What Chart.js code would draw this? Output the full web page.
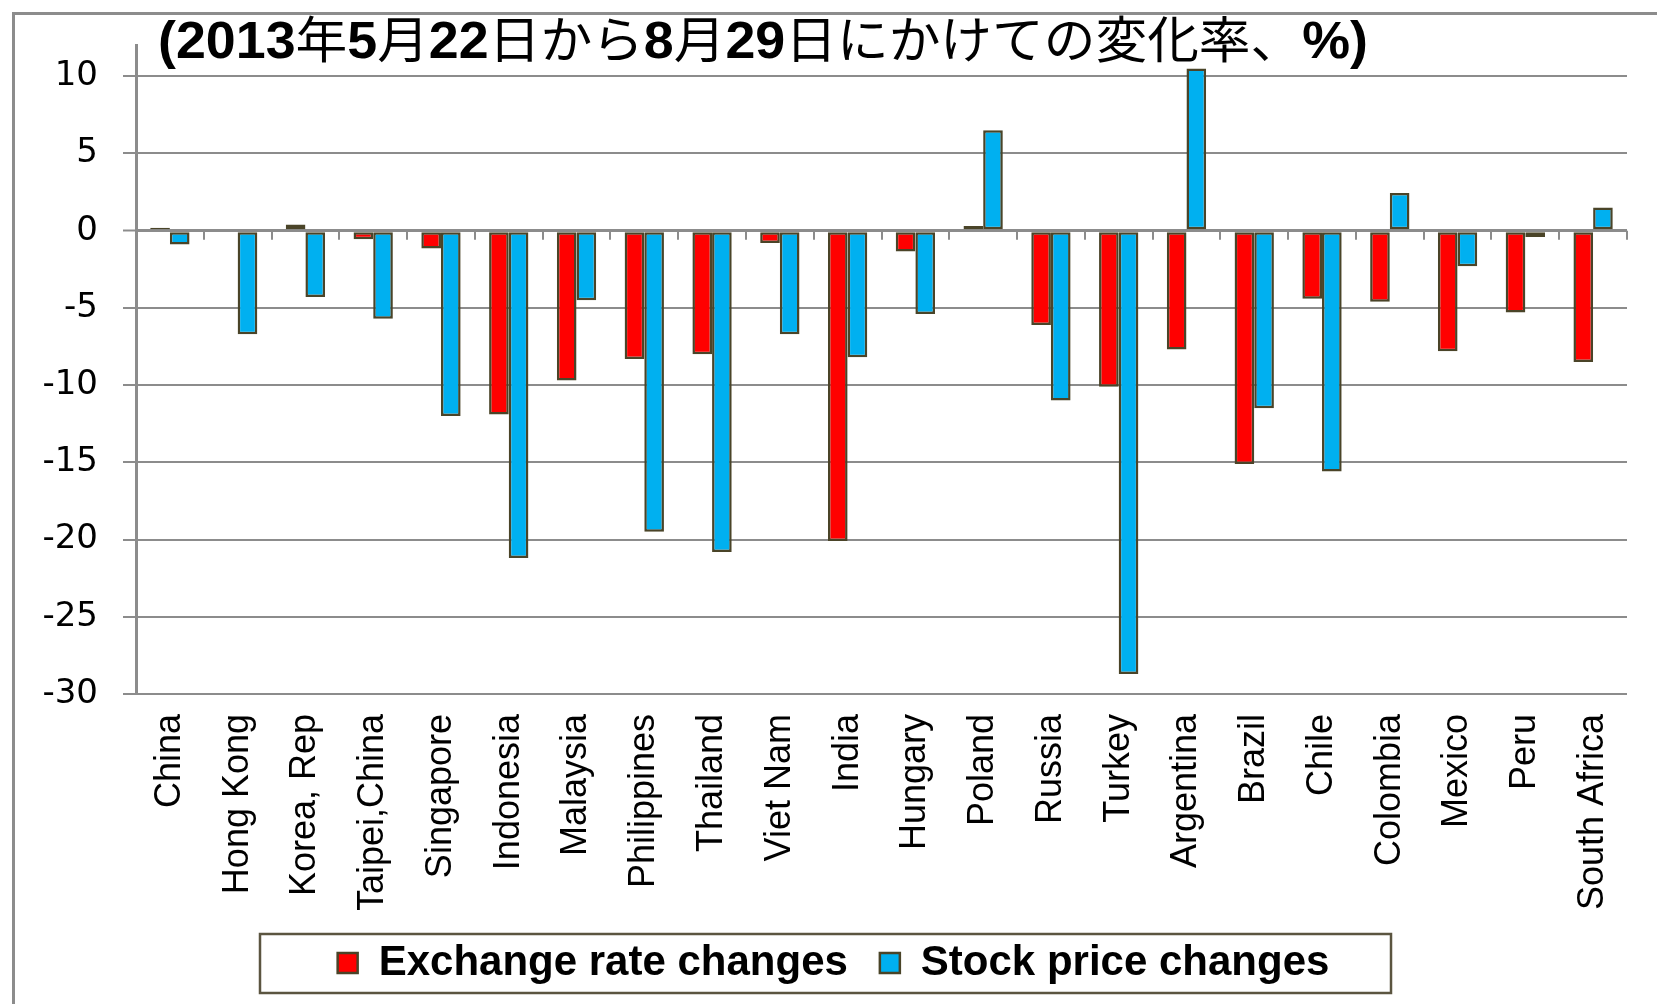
<!DOCTYPE html>
<html>
<head>
<meta charset="utf-8">
<script src="https://cdn.jsdelivr.net/npm/chart.js@4.4.1/dist/chart.umd.min.js"></script>
<style>
  html, body { margin: 0; padding: 0; background: #fff; }
  #wrap { position: relative; width: 1657px; height: 1004px; overflow: hidden; }
  #frame { position: absolute; left: 12px; top: 12px; right: -10px; bottom: -10px;
           border-left: 3px solid #8c8c8c; border-top: 3px solid #8c8c8c; }
  #chart { position: absolute; left: 0; top: 0; }
  #title { position: absolute; left: 158px; top: 11px; white-space: nowrap;
           font-family: "Noto Sans CJK JP", sans-serif; font-size: 50px; line-height: 1;
           color: #000; transform-origin: 0 0; }
  #title b { font-family: "Liberation Sans", Arial, sans-serif; font-size: 52px; font-weight: bold; }
</style>
</head>
<body>
<div id="wrap">
  <div id="frame"></div>
  <canvas id="chart" width="1657" height="1004"></canvas>
  <div id="title"><b>(2013</b>年<b>5</b>月<b>22</b>日から<b>8</b>月<b>29</b>日にかけての変化率、<b>%)</b></div>
</div>
<script>
const categories = ['China', 'Hong Kong', 'Korea, Rep', 'Taipei,China', 'Singapore', 'Indonesia',
  'Malaysia', 'Philippines', 'Thailand', 'Viet Nam', 'India', 'Hungary', 'Poland', 'Russia',
  'Turkey', 'Argentina', 'Brazil', 'Chile', 'Colombia', 'Mexico', 'Peru', 'South Africa'];

const exchangeRate = [0.2, 0.1, 0.4, -0.55, -1.15, -11.9, -9.7, -8.3, -8.0, -0.8, -20.1,
  -1.35, 0.3, -6.1, -10.1, -7.7, -15.1, -4.4, -4.6, -7.8, -5.3, -8.5];

const stockPrice = [-0.9, -6.7, -4.3, -5.7, -12.0, -21.2, -4.5, -19.5, -20.8, -6.7, -8.2,
  -5.4, 6.5, -11.0, -28.7, 10.5, -11.5, -15.6, 2.45, -2.3, -0.4, 1.5];

const yTicks = [-30, -25, -20, -15, -10, -5, 0, 5, 10];

const GRID = '#8c8c8c';
const EDGE = '#4a4428';

// small marks below the zero line between categories (excel style)
const zeroTicks = {
  id: 'zeroTicks',
  beforeDatasetsDraw(chart) {
    const x = chart.scales.x, y = chart.scales.y;
    const y0 = y.getPixelForValue(0);
    const step = x.getPixelForValue(1) - x.getPixelForValue(0);
    const c = chart.ctx;
    c.save();
    c.strokeStyle = GRID;
    c.lineWidth = 2;
    for (let i = 0; i <= categories.length; i++) {
      const px = Math.round(x.getPixelForValue(i) - step / 2);
      c.beginPath();
      c.moveTo(px, y0);
      c.lineTo(px, y0 + 9);
      c.stroke();
    }
    c.restore();
  }
};

// frame around the legend
const legendFrame = {
  id: 'legendFrame',
  afterDraw(chart) {
    const boxes = chart.legend.legendHitBoxes;
    if (!boxes || !boxes.length) return;
    const first = boxes[0], last = boxes[boxes.length - 1];
    const mid = (first.left + last.left + last.width) / 2;
    const cy = first.top + first.height / 2;
    const c = chart.ctx;
    c.save();
    c.strokeStyle = '#5b5540';
    c.lineWidth = 2.5;
    c.strokeRect(Math.round(mid - 574), Math.round(cy - 29), 1131, 59);
    c.restore();
  }
};

const ctx = document.getElementById('chart').getContext('2d');
new Chart(ctx, {
  type: 'bar',
  data: {
    labels: categories,
    datasets: [{
      label: 'Exchange rate changes',
      data: exchangeRate,
      backgroundColor: '#ff0000',
      borderColor: EDGE,
      borderWidth: 2.5,
      borderSkipped: false
    }, {
      label: 'Stock price changes',
      data: stockPrice,
      backgroundColor: '#00b0f0',
      borderColor: EDGE,
      borderWidth: 2.5,
      borderSkipped: false
    }]
  },
  options: {
    responsive: false,
    animation: false,
    layout: { padding: { left: 40, right: 30, top: 42, bottom: 10 } },
    datasets: { bar: { categoryPercentage: 0.58, barPercentage: 1.0 } },
    plugins: {
      title: { display: false },
      tooltip: { enabled: false },
      legend: {
        position: 'bottom',
        labels: {
          boxWidth: 20,
          boxHeight: 20,
          padding: 32,
          color: '#000',
          font: { family: '"Liberation Sans", Arial, sans-serif', size: 42, weight: 'bold' }
        }
      }
    },
    scales: {
      x: {
        grid: { display: false, drawTicks: false },
        border: { display: false },
        ticks: {
          minRotation: 90,
          maxRotation: 90,
          autoSkip: false,
          padding: 20,
          color: '#000',
          font: { family: '"Liberation Sans", Arial, sans-serif', size: 36 }
        },
        afterFit(scale) { scale.height = 216; }
      },
      y: {
        min: -30,
        max: 12,
        afterBuildTicks(scale) { scale.ticks = yTicks.map(v => ({ value: v })); },
        afterFit(scale) { scale.width = 96; },
        border: { display: true, color: GRID, width: 3 },
        grid: {
          color: GRID,
          lineWidth: c => (c.tick && c.tick.value === 0 ? 3 : 2),
          tickLength: 13,
          tickColor: GRID,
          tickWidth: 2
        },
        ticks: {
          padding: 25,
          color: '#000',
          font: { family: 'DejaVu Sans', size: 34 }
        }
      }
    }
  },
  plugins: [zeroTicks, legendFrame]
});

// stretch the title to the width it has in the picture
function fitTitle() {
  const t = document.getElementById('title');
  t.style.transform = 'none';
  const w = t.getBoundingClientRect().width;
  if (w > 0) t.style.transform = 'scaleX(' + (1210 / w) + ')';
}
fitTitle();
document.fonts.ready.then(fitTitle);
</script>
</body>
</html>
